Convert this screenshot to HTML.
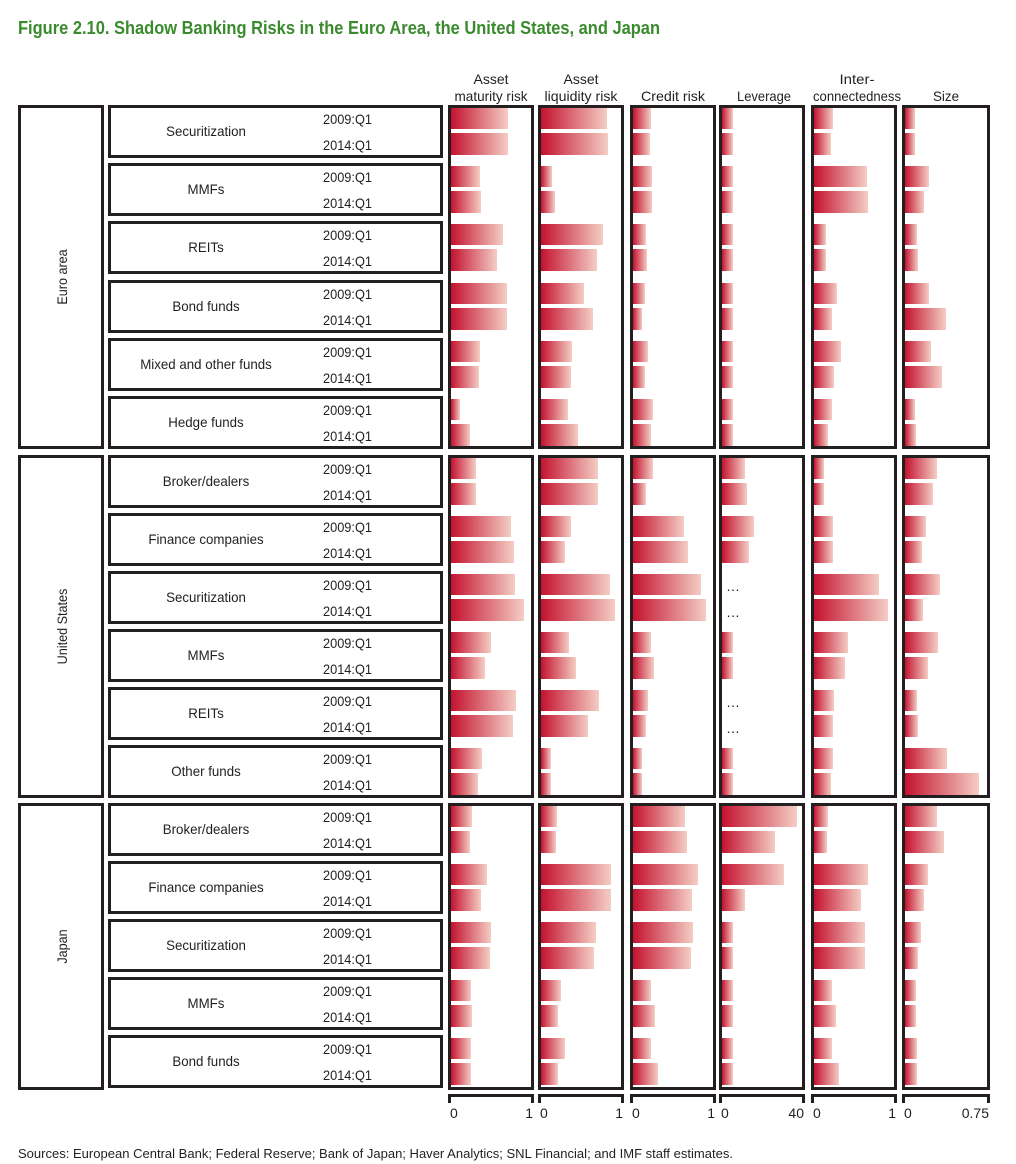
<!DOCTYPE html>
<html><head><meta charset="utf-8"><style>
body{margin:0;background:#fff;}
svg{display:block;font-family:"Liberation Sans",sans-serif;}
</style></head><body>
<svg id="s" width="1016" height="1164" xmlns="http://www.w3.org/2000/svg">
<defs><linearGradient id="g" x1="0" y1="0" x2="1" y2="0"><stop offset="0" stop-color="#c4122f"/><stop offset="1" stop-color="#f4cdc4"/></linearGradient></defs>
<text x="18" y="34" fill="#3a8a2e" font-weight="bold" font-size="18" textLength="642" lengthAdjust="spacingAndGlyphs">Figure 2.10. Shadow Banking Risks in the Euro Area, the United States, and Japan</text>
<text x="18" y="1158" fill="#231f20" font-size="13" textLength="715" lengthAdjust="spacingAndGlyphs">Sources: European Central Bank; Federal Reserve; Bank of Japan; Haver Analytics; SNL Financial; and IMF staff estimates.</text>
</svg>
<script>
var s=document.getElementById('s'),NS='http://www.w3.org/2000/svg';
function el(t,a,txt){var e=document.createElementNS(NS,t);for(var k in a)e.setAttribute(k,a[k]);if(txt!=null)e.textContent=txt;s.appendChild(e);return e;}
function tx(x,y,t,anchor,w,extra){var a={x:x,y:y,'font-size':14,fill:'#231f20','text-anchor':anchor||'start'};if(w){a.textLength=w;a.lengthAdjust='spacingAndGlyphs';}for(var k in extra)a[k]=extra[k];return el('text',a,t);}
function cx(x,y,t,anchor,f){var e=tx(x,y,t,anchor);var w=e.getComputedTextLength();if(w>0){e.setAttribute('textLength',(w*f).toFixed(1));e.setAttribute('lengthAdjust','spacingAndGlyphs');}return e;}
var cols=[[448,534],[538,624],[630,716],[719,805],[811,897],[902,990]];
tx(491,84,'Asset','middle',35);tx(491,101,'maturity risk','middle',73);
tx(581,84,'Asset','middle',35);tx(581,101,'liquidity risk','middle',73);
tx(673,101,'Credit risk','middle',64);tx(764,101,'Leverage','middle',54);
tx(857,84,'Inter-','middle',35);tx(857,101,'connectedness','middle',88);
tx(946,101,'Size','middle',26);
var regions=[
 {name:'Euro area',top:105,bot:449,groups:[
  ['Securitization',105,[[508,508],[607,608],[651,650],[733,733],[833,831],[915,915]]],
  ['MMFs',163,[[480,481],[552,555],[652,652],[733,733],[867,868],[929,924]]],
  ['REITs',221,[[503,497],[603,597],[646,647],[733,733],[826,826],[917,918]]],
  ['Bond funds',280,[[507,507],[584,593],[645,642],[733,733],[837,832],[929,946]]],
  ['Mixed and other funds',338,[[480,479],[572,571],[648,645],[733,733],[841,834],[931,942]]],
  ['Hedge funds',396,[[460,470],[568,578],[653,651],[733,733],[832,828],[915,916]]]]},
 {name:'United States',top:455,bot:798,groups:[
  ['Broker/dealers',455,[[476,476],[598,598],[653,646],[745,747],[824,824],[937,933]]],
  ['Finance companies',513,[[511,514],[571,565],[684,688],[754,749],[833,833],[926,922]]],
  ['Securitization',571,[[515,524],[610,615],[701,706],null,[879,888],[940,923]]],
  ['MMFs',629,[[491,485],[569,576],[651,654],[733,733],[848,845],[938,928]]],
  ['REITs',687,[[516,513],[599,588],[648,646],null,[834,833],[917,918]]],
  ['Other funds',745,[[482,478],[551,551],[642,642],[733,733],[833,831],[947,979]]]]},
 {name:'Japan',top:803,bot:1090,groups:[
  ['Broker/dealers',803,[[472,470],[557,556],[685,687],[797,775],[828,827],[937,944]]],
  ['Finance companies',861,[[487,481],[611,611],[698,692],[784,745],[868,861],[928,924]]],
  ['Securitization',919,[[491,490],[596,594],[693,691],[733,733],[865,865],[921,918]]],
  ['MMFs',977,[[471,472],[561,558],[651,655],[733,733],[832,836],[916,916]]],
  ['Bond funds',1035,[[471,471],[565,558],[651,658],[733,733],[832,839],[917,917]]]]}];
regions.forEach(function(r){
 el('rect',{x:19.5,y:r.top+1.5,width:83,height:r.bot-r.top-3,fill:'none',stroke:'#231f20','stroke-width':3});
 var cy=(r.top+r.bot)/2;
 var e=cx(0,0,r.name,'middle',0.9);e.setAttribute('transform','translate(67,'+cy+') rotate(-90)');
 cols.forEach(function(c){el('rect',{x:c[0]+1.5,y:r.top+1.5,width:c[1]-c[0]-3,height:r.bot-r.top-3,fill:'none',stroke:'#231f20','stroke-width':3});});
 r.groups.forEach(function(g){
  var G=g[1];
  el('rect',{x:109.5,y:G+1.5,width:332,height:50,fill:'none',stroke:'#231f20','stroke-width':3});
  cx(206,G+31,g[0],'middle',0.95);
  tx(372,G+19,'2009:Q1','end',49);tx(372,G+45,'2014:Q1','end',49);
  g[2].forEach(function(v,i){
   var x0=cols[i][0]+3;
   if(!v){tx(x0+4,G+20,'…');tx(x0+4,G+46,'…');return;}
   el('rect',{x:x0,y:G+3,width:v[0]-x0,height:21,fill:'url(#g)'});
   el('rect',{x:x0,y:G+28,width:v[1]-x0,height:22,fill:'url(#g)'});
  });
 });
});
var maxl=['1','1','1','40','1','0.75'];
cols.forEach(function(c,i){
 el('path',{d:'M'+(c[0]+1.5)+' 1103V1095.5H'+(c[1]-1.5)+'V1103',fill:'none',stroke:'#231f20','stroke-width':3});
 tx(c[0]+2,1118,'0');tx(c[1]-1,1118,maxl[i],'end');
});
</script>
</body></html>
